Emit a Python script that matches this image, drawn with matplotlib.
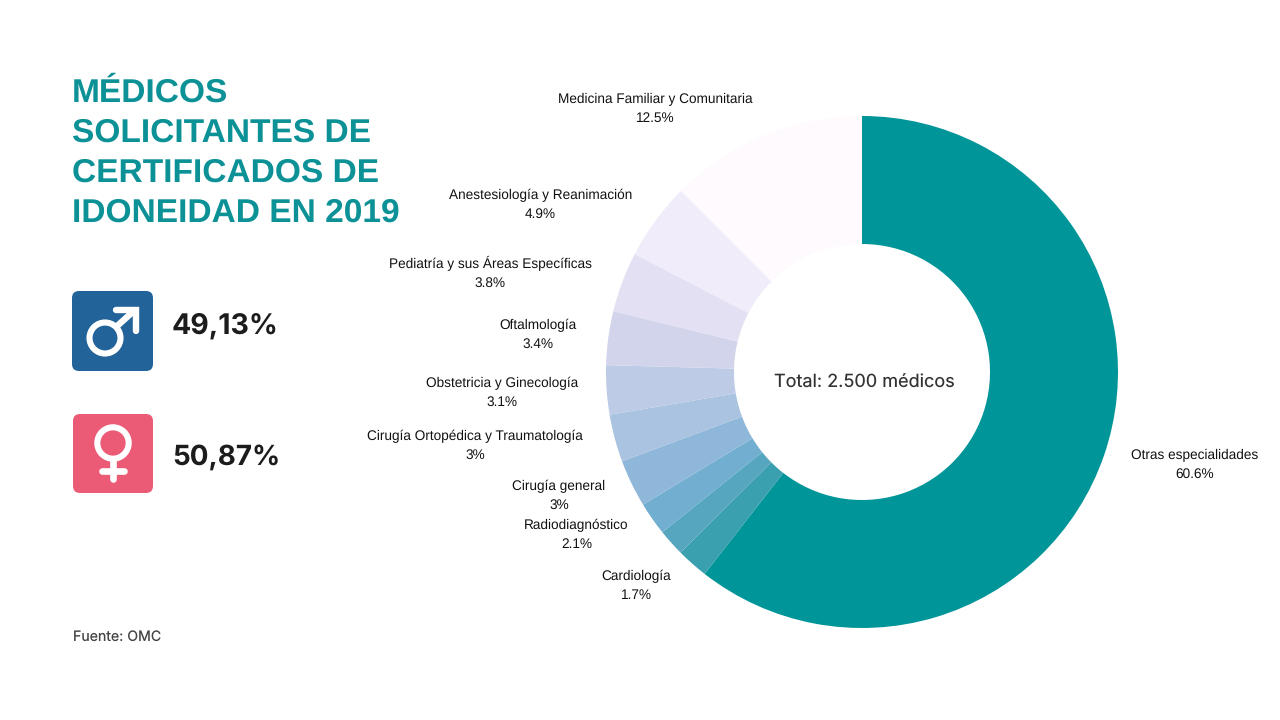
import matplotlib
matplotlib.use("Agg")
from matplotlib import pyplot as plt
from matplotlib.patches import FancyBboxPatch, Circle

plt.rcParams["text.kerning_factor"] = 0
plt.rcParams["text.hinting"] = "no_hinting"

# clockwise from the top; one small wedge has no label in the original
labels = ["Otras especialidades", "", "Cardiología", "Radiodiagnóstico", "Cirugía general",
          "Cirugía Ortopédica y Traumatología", "Obstetricia y Ginecología", "Oftalmología",
          "Pediatría y sus Áreas Específicas", "Anestesiología y Reanimación",
          "Medicina Familiar y Comunitaria"]
values = [60.6, 2.0, 1.7, 2.1, 3, 3, 3.1, 3.4, 3.8, 4.9, 12.5]
value_text = ["60.6%", "", "1.7%", "2.1%", "3%", "3%", "3.1%", "3.4%", "3.8%", "4.9%", "12.5%"]
colors = ["#009598", "#3a9fae", "#56a6bf", "#72aecf", "#8eb7d9", "#a9c3e0", "#bdcbe6",
          "#d2d4ec", "#e3e0f3", "#f1ecf9", "#fefafe"]
# pixel centre of each label block, same order as labels
label_x = [1195, 0, 636, 576.5, 559, 475, 502, 538, 490, 540.5, 655.5]
label_y = [465, 0, 586, 535, 496, 446, 393, 335, 273, 205, 109]

title = "MÉDICOS\nSOLICITANTES DE\nCERTIFICADOS DE\nIDONEIDAD EN 2019"
male_share = "49,13%"
female_share = "50,87%"

W, H = 1280, 720
fig = plt.figure(figsize=(W / 100, H / 100), dpi=100, facecolor="white")

# donut: centre (862, 372), radius 256 px
ax = fig.add_axes([606 / W, (H - 628) / H, 512 / W, 512 / H])
ax.pie(values, colors=colors, startangle=90, counterclock=False, radius=1,
       wedgeprops=dict(width=0.5, linewidth=0))
ax.set_xlim(-1, 1)
ax.set_ylim(-1, 1)

# overlay in pixel coordinates, y pointing down
ov = fig.add_axes([0, 0, 1, 1])
ov.set_xlim(0, W)
ov.set_ylim(H, 0)
ov.axis("off")
ov.patch.set_alpha(0)

for name, val, x, y in zip(labels, value_text, label_x, label_y):
    if name:
        ov.text(x, y, name + "\n" + val, ha="center", va="center", fontsize=9.8,
                family="Liberation Sans", color="#111111", linespacing=1.55)

ov.text(864.5, 383, "Total: 2.500 médicos", ha="center", va="center", fontsize=13,
        family="Inter", color="#333333")
ov.text(72, 153, title, ha="left", va="center", fontsize=24.1, fontweight="bold",
        family="Liberation Sans", color="#0b9196", linespacing=1.38)
ov.text(73, 637, "Fuente: OMC", ha="left", va="center", fontsize=10.2,
        family="Inter", color="#444444")
ov.text(172, 326, male_share, ha="left", va="center", fontsize=20.5, fontweight="bold",
        family="Inter", color="#1c1c1c")
ov.text(172, 457, female_share, ha="left", va="center", fontsize=20, fontweight="bold",
        family="Inter", color="#1c1c1c")

# gender icons
ov.add_patch(FancyBboxPatch((77, 296), 71, 70, boxstyle="round,pad=5,rounding_size=7", lw=0, fc="#226399"))
ov.add_patch(FancyBboxPatch((78, 419), 70, 69, boxstyle="round,pad=5,rounding_size=7", lw=0, fc="#ec5b76"))

# male sign
ov.add_patch(Circle((105, 338), 15.5, fc="none", ec="white", lw=4.4))
ov.plot([116, 136], [327, 309], color="white", lw=4.6, solid_capstyle="butt")
ov.plot([116, 136, 136], [310, 310, 331], color="white", lw=4.6, solid_capstyle="round",
        solid_joinstyle="miter")
# female sign
ov.add_patch(Circle((113, 443), 15.7, fc="none", ec="white", lw=4.4))
ov.plot([113, 113], [461, 479], color="white", lw=4.8, solid_capstyle="round")
ov.plot([102, 124], [471, 471], color="white", lw=4.8, solid_capstyle="round")

fig.savefig("out.png", dpi=100)
